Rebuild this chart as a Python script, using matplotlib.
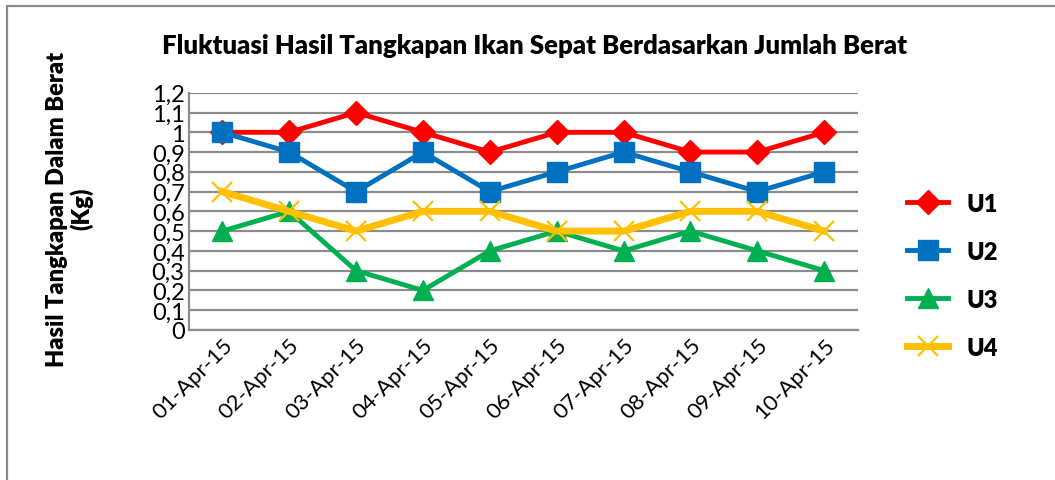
import matplotlib.pyplot as plt
from matplotlib.patches import Rectangle

# data
dates = ['01-Apr-15', '02-Apr-15', '03-Apr-15', '04-Apr-15', '05-Apr-15',
         '06-Apr-15', '07-Apr-15', '08-Apr-15', '09-Apr-15', '10-Apr-15']
u1 = [1.0, 1.0, 1.1, 1.0, 0.9, 1.0, 1.0, 0.9, 0.9, 1.0]
u2 = [1.0, 0.9, 0.7, 0.9, 0.7, 0.8, 0.9, 0.8, 0.7, 0.8]
u3 = [0.5, 0.6, 0.3, 0.2, 0.4, 0.5, 0.4, 0.5, 0.4, 0.3]
u4 = [0.7, 0.6, 0.5, 0.6, 0.6, 0.5, 0.5, 0.6, 0.6, 0.5]
y_ticks = [0, 0.1, 0.2, 0.3, 0.4, 0.5, 0.6, 0.7, 0.8, 0.9, 1.0, 1.1, 1.2]
y_labels = ['0', '0,1', '0,2', '0,3', '0,4', '0,5', '0,6', '0,7', '0,8', '0,9', '1', '1,1', '1,2']

plt.rcParams['font.family'] = ['Lato', 'DejaVu Sans']

fig = plt.figure(figsize=(10.55, 4.81), dpi=100)
ax = fig.add_axes([0.179, 0.312, 0.634, 0.493])

# chart frame (cropped at right and bottom)
fig.patches.append(Rectangle((7 / 1055, -0.1), 1.2, 1 - 7 / 481 + 0.1, transform=fig.transFigure,
                             fill=False, edgecolor='#8c8c8c', linewidth=1.6))

x = range(len(dates))
ax.plot(x, u1, color='#ff0000', lw=3.5, marker='D', ms=12, label='U1')
ax.plot(x, u2, color='#0070c0', lw=3.5, marker='s', ms=14, label='U2')
ax.plot(x, u3, color='#00b050', lw=3.5, marker='^', ms=15, label='U3')
ax.plot(x, u4, color='#ffc000', lw=5, marker='x', ms=14, mew=1.6, label='U4')

ax.set_xlim(-0.5, len(dates) - 0.5)
ax.set_ylim(0, 1.2)
ax.set_yticks(y_ticks)
ax.set_yticklabels(y_labels, fontsize=17)
ax.set_xticks(list(x))
ax.set_xticklabels(dates, rotation=45, ha='right', rotation_mode='anchor', fontsize=16)
ax.tick_params(length=0, pad=3)
ax.yaxis.grid(True, color='#8c8c8c', lw=1.6)
ax.set_axisbelow(True)
for s in ['top', 'right']:
    ax.spines[s].set_visible(False)
for s in ['left', 'bottom']:
    ax.spines[s].set_color('#8c8c8c')
    ax.spines[s].set_linewidth(1.6)

fig.text(0.507, 0.905, 'Fluktuasi Hasil Tangkapan Ikan Sepat Berdasarkan Jumlah Berat',
         ha='center', va='center', fontsize=18.5, fontweight='heavy')
fig.text(0.066, 0.565, 'Hasil Tangkapan Dalam Berat\n(Kg)', rotation=90, ha='center', va='center',
         fontsize=17, fontweight='heavy', multialignment='center', linespacing=1.05)

fig.legend(loc='center left', bbox_to_anchor=(0.84, 0.425), frameon=False,
           prop={'weight': 'heavy', 'size': 17}, labelspacing=1.1, handlelength=1.7,
           handletextpad=0.8)

fig.savefig('out.png', dpi=100)
